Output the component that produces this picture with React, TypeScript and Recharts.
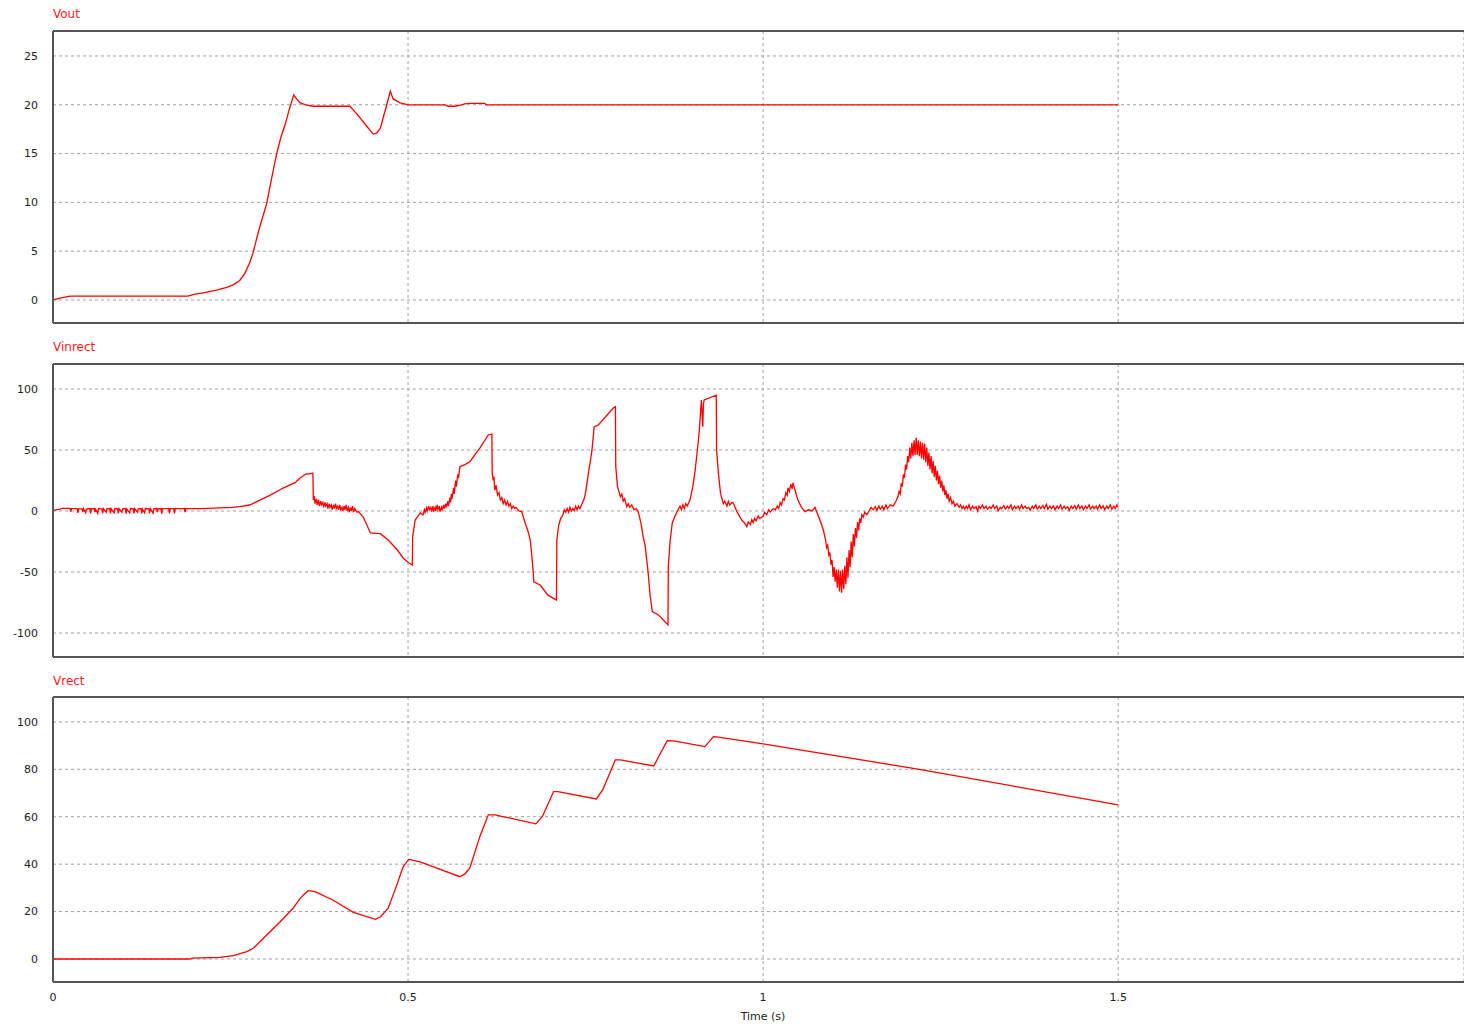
import { LineChart, Line, CartesianGrid, XAxis, YAxis } from 'recharts';

// [time (s), volts]
const vout: [number, number][] = [
  [0, 0], [0.01, 0.2], [0.024, 0.4], [0.19, 0.4], [0.2, 0.6], [0.21, 0.7], [0.23, 1.0], [0.245, 1.3],
  [0.255, 1.6], [0.263, 2.0], [0.27, 2.7], [0.277, 3.8], [0.282, 4.9], [0.29, 7.2], [0.301, 9.9],
  [0.308, 12.5], [0.315, 15], [0.321, 16.7], [0.327, 18], [0.333, 19.6], [0.339, 21.0], [0.343, 20.6],
  [0.348, 20.2], [0.356, 20.0], [0.366, 19.85],
  [0.418, 19.85], [0.425, 19.3], [0.432, 18.7], [0.443, 17.7], [0.451, 17.0], [0.456, 17.1], [0.461, 17.6],
  [0.465, 18.7], [0.47, 20], [0.475, 21.4], [0.479, 20.6], [0.489, 20.2], [0.5, 20.0], [0.552, 20.0],
  [0.556, 19.85], [0.566, 19.85], [0.575, 20.0], [0.58, 20.1], [0.585, 20.15], [0.608, 20.15], [0.61, 20.0],
  [1.5, 20.0],
];

const vinrect: [number, number][] = [
  [0, 0.5], [0.01, 1.5], [0.013, 2.2], [0.024, 2.2], [0.025, -0.5], [0.026, 2], [0.034, 2], [0.035, -1.5],
  [0.036, 1.8], [0.041, 1.8], [0.042, -1], [0.043, 2], [0.046, -1.5], [0.047, 1.5], [0.052, 2], [0.053, -2],
  [0.054, 1.8], [0.058, 2], [0.059, -1], [0.06, 1.5], [0.063, -2], [0.064, 2], [0.069, 1.5], [0.07, -1.8],
  [0.071, 2], [0.075, -1], [0.076, 1.8], [0.08, 2], [0.081, -2], [0.082, 1.8], [0.086, -1.5], [0.087, 2],
  [0.091, 1.8], [0.092, -2], [0.093, 2], [0.097, -1], [0.098, 1.8], [0.102, 2], [0.103, -2.2], [0.104, 1.5],
  [0.108, -1.5], [0.109, 2], [0.113, 1.8], [0.114, -2], [0.115, 2], [0.119, -1], [0.12, 1.8], [0.124, 2],
  [0.125, -2], [0.126, 1.5], [0.129, -1.5], [0.13, 2], [0.135, 1.8], [0.136, -2], [0.137, 2], [0.141, -1.8],
  [0.142, 1.8], [0.146, 2], [0.147, -1], [0.148, 1.8], [0.152, 2], [0.153, -2.2], [0.154, 2], [0.163, 2],
  [0.164, -2], [0.165, 2], [0.17, 2], [0.171, -2], [0.172, 2], [0.185, 2], [0.186, -1], [0.187, 2],
  [0.21, 2], [0.243, 2.7],
  [0.249, 2.7], [0.263, 3.5], [0.277, 4.9], [0.29, 8.5], [0.306, 13], [0.324, 18.8], [0.341, 23.2],
  [0.348, 27], [0.356, 30.3], [0.366, 30.9], [0.3666, 9],
  [0.368, 12], [0.369, 6], [0.371, 10], [0.372, 5], [0.374, 9], [0.375, 4], [0.377, 8], [0.378, 5],
  [0.38, 7], [0.381, 3], [0.383, 7], [0.384, 4], [0.386, 6], [0.387, 2], [0.389, 6], [0.39, 3],
  [0.392, 5], [0.393, 1], [0.395, 5], [0.396, 2], [0.398, 6], [0.399, 2], [0.401, 4], [0.402, 1],
  [0.404, 5], [0.405, 1], [0.407, 3], [0.408, 0], [0.41, 4], [0.411, 1], [0.413, 5], [0.414, 0],
  [0.416, 3], [0.417, -1], [0.419, 3], [0.42, 0], [0.422, 4], [0.423, -1], [0.425, 2], [0.428, -1],
  [0.43, -0.5],
  [0.437, -5], [0.447, -18], [0.461, -18.6], [0.472, -23.8], [0.485, -32], [0.493, -38.5], [0.5, -42],
  [0.506, -44.3], [0.5065, -21], [0.51, -7.4], [0.513, -5], [0.517, -1.6], [0.521, -3.3],
  [0.523, 1], [0.524, -1], [0.526, 2.5], [0.527, 0], [0.529, 4], [0.53, 1], [0.532, 3], [0.533, -0.5],
  [0.535, 4], [0.536, -0.5], [0.538, 3], [0.539, 0], [0.541, 5], [0.542, 1], [0.544, 4], [0.545, -0.5],
  [0.547, 3], [0.548, 1], [0.55, 5], [0.551, 2], [0.553, 6], [0.554, 3], [0.556, 8], [0.557, 4],
  [0.559, 11], [0.56, 7], [0.561, 14], [0.562, 10], [0.564, 19], [0.565, 14], [0.567, 25], [0.568, 20],
  [0.57, 30], [0.571, 27], [0.573, 36.3], [0.58, 38], [0.587, 40.4], [0.601, 51.6], [0.613, 62.3],
  [0.618, 63], [0.6185, 31], [0.62, 25], [0.621, 28], [0.622, 17], [0.624, 21], [0.626, 13], [0.628, 15],
  [0.63, 9], [0.632, 11], [0.634, 6], [0.636, 9], [0.638, 5], [0.64, 8], [0.642, 4], [0.644, 6],
  [0.646, 2], [0.648, 4], [0.65, 2], [0.652, 3], [0.656, 0], [0.66, -0.5], [0.665, -10], [0.668, -15],
  [0.67, -19], [0.672, -23.8], [0.674, -35], [0.676, -48], [0.677, -58], [0.686, -60.7], [0.697, -69],
  [0.709, -73], [0.7095, -23.8], [0.712, -12], [0.715, -6], [0.718, -3.3], [0.72, 1], [0.722, -1],
  [0.724, 2], [0.726, -1], [0.728, 3], [0.73, 0], [0.732, 2], [0.734, 0.4], [0.736, 4], [0.738, 1],
  [0.74, 4], [0.742, 2], [0.745, 6], [0.748, 10], [0.75, 15], [0.752, 23], [0.755, 35], [0.757, 42],
  [0.759, 50], [0.761, 62], [0.762, 69], [0.768, 70.5], [0.789, 84.4], [0.792, 85.5], [0.7925, 36],
  [0.795, 20], [0.799, 11.7], [0.801, 14], [0.803, 8], [0.805, 10], [0.808, 3.5], [0.81, 6], [0.812, 3],
  [0.815, 5], [0.818, 1], [0.821, 2], [0.824, -0.5], [0.828, -10], [0.831, -21], [0.834, -29],
  [0.838, -50], [0.841, -70], [0.844, -82.5], [0.852, -85], [0.855, -86.6], [0.866, -93.4],
  [0.8665, -45.6], [0.869, -25], [0.872, -10], [0.876, -4], [0.88, 0.8], [0.883, 4], [0.885, 1],
  [0.887, 5], [0.889, 2], [0.891, 6], [0.893, 4], [0.897, 9], [0.901, 20], [0.904, 32], [0.907, 47.5],
  [0.91, 65], [0.913, 91], [0.914, 80], [0.915, 69], [0.916, 88], [0.917, 91], [0.934, 95], [0.9345, 50],
  [0.937, 31], [0.94, 14.6], [0.942, 10], [0.944, 6], [0.946, 8], [0.949, 4], [0.951, 8], [0.953, 5],
  [0.956, 7], [0.958, 6.5], [0.963, -0.5], [0.97, -7.4], [0.974, -10], [0.977, -12.8], [0.979, -9],
  [0.982, -11], [0.984, -7], [0.986, -9.5], [0.988, -6], [0.99, -8], [0.993, -4], [0.995, -6], [1.0, -4.6],
  [1.002, -1], [1.005, -3], [1.008, 1], [1.01, -1], [1.014, 2], [1.017, 1], [1.02, 4], [1.022, 2],
  [1.024, 7], [1.026, 5], [1.028, 10], [1.03, 9], [1.032, 15], [1.034, 13], [1.035, 19], [1.037, 16],
  [1.039, 22], [1.041, 18], [1.042, 23], [1.045, 17], [1.049, 9], [1.054, 3], [1.059, -0.5], [1.064, 1],
  [1.069, 0], [1.073, 3], [1.077, -3], [1.08, -7.4], [1.085, -16],
  [1.088, -24], [1.0895, -30], [1.091, -28], [1.0925, -36], [1.094, -34], [1.0955, -44], [1.097, -40],
  [1.0985, -54], [1.1, -46], [1.1015, -58], [1.103, -48], [1.1045, -63], [1.106, -48], [1.1075, -66],
  [1.109, -49], [1.1105, -67], [1.112, -48], [1.1135, -64], [1.115, -45], [1.1165, -60], [1.118, -38],
  [1.1195, -55], [1.121, -32], [1.1225, -46], [1.124, -25], [1.1255, -38], [1.127, -19], [1.1285, -29],
  [1.13, -14], [1.1315, -22], [1.133, -9], [1.1345, -16], [1.136, -6], [1.1375, -10], [1.139, -3],
  [1.141, -5], [1.143, -1], [1.146, -3], [1.149, 0],
  [1.152, 3], [1.155, 1], [1.158, 3.5], [1.16, 0.5], [1.163, 4], [1.165, 1.5], [1.168, 4], [1.17, 1],
  [1.173, 5], [1.175, 2], [1.179, 5], [1.183, 4], [1.187, 8],
  [1.19, 12], [1.1915, 16], [1.193, 14], [1.1945, 22], [1.196, 20], [1.1975, 30], [1.199, 27],
  [1.2005, 38], [1.202, 34], [1.2035, 45], [1.205, 40], [1.2065, 52], [1.208, 43], [1.2095, 56],
  [1.211, 45], [1.2125, 58], [1.214, 46], [1.2155, 60], [1.217, 46], [1.2185, 58], [1.22, 45],
  [1.2215, 57], [1.223, 43], [1.2245, 56], [1.226, 42], [1.2275, 55], [1.229, 40], [1.2305, 52],
  [1.232, 37], [1.2335, 48], [1.235, 34], [1.2365, 45], [1.238, 31], [1.2395, 41], [1.241, 28],
  [1.2425, 37], [1.244, 25], [1.2455, 33], [1.247, 22], [1.2485, 29], [1.25, 19], [1.2515, 25],
  [1.253, 16], [1.2545, 21], [1.256, 13], [1.2575, 17], [1.259, 10], [1.2605, 14], [1.262, 8],
  [1.264, 11], [1.266, 6], [1.268, 8], [1.27, 4], [1.273, 6], [1.276, 3],
  [1.278, 5], [1.28, 2], [1.282, 4], [1.284, 1.5], [1.286, 4], [1.288, 2], [1.29, 5], [1.292, 1],
  [1.295, 4], [1.297, 2], [1.3, 3.5], [1.302, 0], [1.304, 4], [1.306, 2], [1.309, 5], [1.311, 2],
  [1.314, 4], [1.316, 1.5], [1.319, 3.5], [1.321, 2], [1.324, 5], [1.326, 2], [1.329, 4], [1.331, 0],
  [1.334, 3], [1.336, 2], [1.339, 4.5], [1.341, 1.5], [1.344, 4], [1.346, 2], [1.349, 5], [1.351, 1],
  [1.354, 4], [1.356, 2], [1.359, 4], [1.361, 1.5], [1.364, 5], [1.366, 2], [1.369, 4], [1.371, 2],
  [1.374, 3], [1.376, 0.5], [1.379, 4], [1.381, 2], [1.384, 5], [1.386, 1.5], [1.389, 4], [1.391, 2],
  [1.394, 4.5], [1.396, 2], [1.399, 5.5], [1.401, 1.5], [1.404, 4], [1.406, 2], [1.409, 4], [1.411, 1],
  [1.414, 4], [1.416, 2], [1.419, 5], [1.421, 1.5], [1.424, 4], [1.426, 2], [1.429, 3.5], [1.431, 0.5],
  [1.434, 4], [1.436, 2], [1.439, 4.5], [1.441, 1.5], [1.444, 5], [1.446, 2], [1.449, 4], [1.451, 1],
  [1.454, 4], [1.456, 2], [1.459, 5], [1.461, 1.5], [1.464, 4], [1.466, 2], [1.469, 4], [1.471, 1.5],
  [1.474, 5], [1.476, 2], [1.479, 4], [1.481, 1], [1.484, 4], [1.486, 2], [1.489, 5], [1.491, 1.5],
  [1.494, 4], [1.496, 2], [1.498, 5], [1.5, 3],
];

const vrect: [number, number][] = [
  [0, 0], [0.193, 0], [0.196, 0.4], [0.235, 0.7], [0.254, 1.4], [0.273, 3.1], [0.282, 4.5], [0.301, 10.1],
  [0.32, 15.7], [0.338, 21.4], [0.348, 25.6], [0.359, 28.8], [0.369, 28.4], [0.394, 24.9], [0.423, 19.7],
  [0.454, 16.7], [0.461, 17.7], [0.472, 21.4], [0.485, 31.9], [0.493, 38.9], [0.501, 42.0], [0.517, 41.0],
  [0.573, 34.7], [0.58, 35.9], [0.587, 38.4], [0.601, 51.6], [0.613, 60.8], [0.623, 60.8], [0.63, 60.3],
  [0.68, 57.0], [0.689, 60.0], [0.705, 70.6], [0.711, 70.6], [0.765, 67.5], [0.774, 71.3], [0.792, 84],
  [0.799, 84], [0.846, 81.4], [0.853, 85.4], [0.865, 92.1], [0.874, 92], [0.918, 89.6], [0.93, 93.8],
  [0.937, 93.6], [1.0, 90.7], [1.22, 80.0], [1.5, 65.0],
];

const timeTicks = [0, 0.5, 1, 1.5];
const voutTicks = [0, 5, 10, 15, 20, 25];
const vinrectTicks = [-100, -50, 0, 50, 100];
const vrectTicks = [0, 20, 40, 60, 80, 100];

const toRows = (pts: [number, number][]) => pts.map(([t, v]) => ({ t, v }));

const FONT = 'DejaVu Sans';
const tickStyle = { fontSize: 11, fill: '#222', fontFamily: FONT };
const X_DOMAIN: [number, number] = [0, 1.987];
const border = { stroke: '#555', strokeWidth: 2 };

const NoTick = () => <g />;

function Panel({ rows, ticks, domain, height, bottom, showTime }: any) {
  return (
    <LineChart width={1464} height={height} margin={{ top: 30, right: 0, left: 0, bottom }}>
      <CartesianGrid stroke="#a0a0a0" strokeDasharray="3 3" />
      <XAxis
        dataKey="t"
        type="number"
        domain={X_DOMAIN}
        allowDataOverflow
        ticks={timeTicks}
        interval={0}
        height={showTime ? 30 : 1}
        tick={showTime ? tickStyle : NoTick}
        tickSize={0}
        tickMargin={11}
        axisLine={border}
      />
      <XAxis
        xAxisId="top"
        orientation="top"
        dataKey="t"
        type="number"
        domain={X_DOMAIN}
        allowDataOverflow
        ticks={timeTicks}
        height={1}
        tick={NoTick}
        tickSize={0}
        axisLine={border}
      />
      <YAxis
        type="number"
        domain={domain}
        allowDataOverflow
        ticks={ticks}
        interval={0}
        width={53}
        tick={tickStyle}
        tickSize={0}
        tickMargin={15}
        axisLine={border}
      />
      <Line
        data={rows}
        dataKey="v"
        type="linear"
        stroke="#ff0000"
        strokeWidth={1.3}
        dot={false}
        activeDot={false}
        isAnimationActive={false}
      />
    </LineChart>
  );
}

const titleStyle: any = {
  position: 'absolute',
  left: 53,
  fontSize: 12,
  lineHeight: '14px',
  color: '#ff2020',
  fontFamily: FONT,
};

export default function App() {
  return (
    <div style={{ position: 'absolute', left: 0, top: 0, width: 1464, height: 1026, background: '#fff' }}>
      <div style={{ ...titleStyle, top: 7 }}>Vout</div>
      <div style={{ ...titleStyle, top: 340 }}>Vinrect</div>
      <div style={{ ...titleStyle, top: 674 }}>Vrect</div>

      <div style={{ position: 'absolute', left: 0, top: 0 }}>
        <Panel rows={toRows(vout)} ticks={voutTicks} domain={[-2.36, 27.56]} height={333} bottom={9} />
      </div>
      <div style={{ position: 'absolute', left: 0, top: 333 }}>
        <Panel rows={toRows(vinrect)} ticks={vinrectTicks} domain={[-119.7, 120.5]} height={333} bottom={8} />
      </div>
      <div style={{ position: 'absolute', left: 0, top: 666 }}>
        <Panel rows={toRows(vrect)} ticks={vrectTicks} domain={[-9.7, 110.5]} height={356} bottom={10} showTime />
      </div>

      <div
        style={{
          position: 'absolute',
          left: 713,
          width: 100,
          top: 1010,
          textAlign: 'center',
          fontSize: 11,
          lineHeight: '14px',
          color: '#222',
          fontFamily: FONT,
        }}
      >
        Time (s)
      </div>
    </div>
  );
}
